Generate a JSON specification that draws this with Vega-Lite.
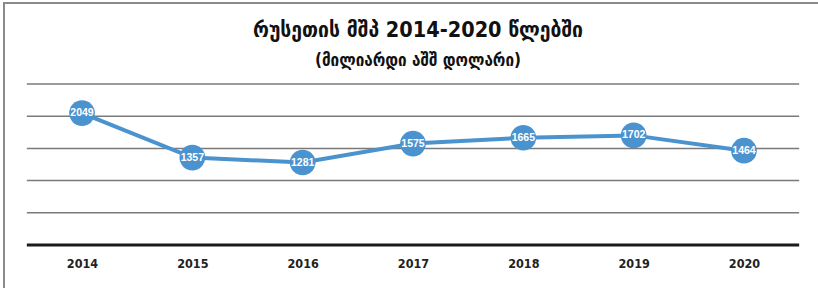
{
  "$schema": "https://vega.github.io/schema/vega-lite/v6.json",
  "autosize": {"type": "none"},
  "padding": {"left": 4, "top": 3, "right": 0, "bottom": 0},
  "width": 816,
  "height": 287,
  "background": "white",
  "config": {
    "view": {"stroke": "#8a8a8a", "strokeWidth": 2},
    "font": "DejaVu Sans Condensed"
  },
  "title": {
    "text": "რუსეთის მშპ 2014-2020 წლებში",
    "subtitle": "(მილიარდი აშშ დოლარი)",
    "anchor": "middle",
    "offset": -66,
    "dx": 6,
    "font": "DejaVu Sans Condensed",
    "fontSize": 21.5,
    "fontWeight": "bold",
    "color": "#111111",
    "subtitleFont": "DejaVu Sans Condensed",
    "subtitleFontSize": 17,
    "subtitleFontWeight": "bold",
    "subtitleColor": "#111111",
    "subtitlePadding": 12
  },
  "datasets": {
    "gdp": [
      {"year": 2014, "gdp": 2049},
      {"year": 2015, "gdp": 1357},
      {"year": 2016, "gdp": 1281},
      {"year": 2017, "gdp": 1575},
      {"year": 2018, "gdp": 1665},
      {"year": 2019, "gdp": 1702},
      {"year": 2020, "gdp": 1464}
    ],
    "grid": [
      {"v": 500}, {"v": 1000}, {"v": 1500}, {"v": 2000}, {"v": 2500}
    ]
  },
  "layer": [
    {
      "data": {"name": "grid"},
      "mark": {"type": "rule", "color": "#7a7a7a", "strokeWidth": 1.5},
      "encoding": {
        "y": {"field": "v", "type": "quantitative", "scale": {"domain": [-699, 3758], "nice": false, "zero": false}, "axis": null},
        "x": {"datum": 2013.5, "type": "quantitative", "scale": {"domain": [2013.293, 2020.689], "nice": false, "zero": false}},
        "x2": {"datum": 2020.5}
      }
    },
    {
      "data": {"values": [{"v": 0}]},
      "mark": {"type": "rule", "color": "#1a1a1a", "strokeWidth": 3},
      "encoding": {
        "y": {"field": "v", "type": "quantitative"},
        "x": {"datum": 2013.5, "type": "quantitative"},
        "x2": {"datum": 2020.5}
      }
    },
    {
      "data": {"name": "gdp"},
      "encoding": {
        "x": {
          "field": "year",
          "type": "quantitative",
          "axis": {
            "title": null,
            "orient": "bottom",
            "offset": -45,
            "values": [2014, 2015, 2016, 2017, 2018, 2019, 2020],
            "format": "d",
            "labelAngle": 0,
            "labelFont": "DejaVu Sans Condensed",
            "labelFontSize": 12.5,
            "labelFontWeight": "bold",
            "labelColor": "#222222",
            "labelPadding": 12,
            "ticks": false,
            "domain": false,
            "grid": false
          }
        },
        "y": {"field": "gdp", "type": "quantitative"}
      },
      "layer": [
        {"mark": {"type": "line", "color": "#4b93cf", "strokeWidth": 4}},
        {"mark": {"type": "circle", "color": "#4b93cf", "opacity": 1, "size": 660}},
        {
          "mark": {
            "type": "text",
            "color": "white",
            "font": "Liberation Sans",
            "fontSize": 10.5,
            "fontWeight": "bold",
            "baseline": "middle",
            "align": "center"
          },
          "encoding": {"text": {"field": "gdp", "type": "quantitative", "format": "d"}}
        }
      ]
    }
  ]
}
